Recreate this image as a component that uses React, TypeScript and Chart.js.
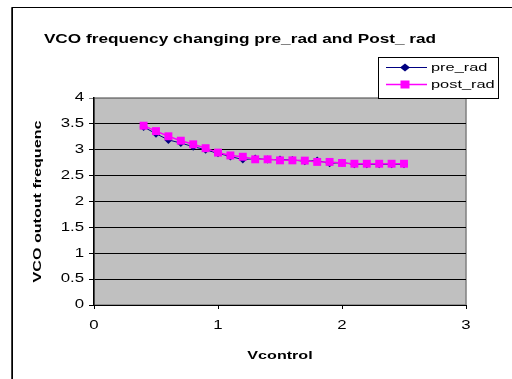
import React, { useEffect, useRef } from "react";
import { Chart, registerables } from "chart.js";

Chart.register(...registerables);

const TITLE = "VCO frequency changing pre_rad and Post_ rad";
const X_TITLE = "Vcontrol";
const Y_TITLE = "VCO outout frequenc";

const vcontrol = [0.4, 0.5, 0.6, 0.7, 0.8, 0.9, 1.0, 1.1, 1.2, 1.3, 1.4, 1.5, 1.6, 1.7, 1.8, 1.9, 2.0, 2.1, 2.2, 2.3, 2.4, 2.5];
const preRad = [3.44, 3.31, 3.19, 3.13, 3.06, 3.0, 2.93, 2.87, 2.81, 2.83, 2.81, 2.81, 2.8, 2.78, 2.79, 2.74, 2.75, 2.72, 2.72, 2.72, 2.72, 2.72];
const postRad = [3.465, 3.36, 3.26, 3.175, 3.105, 3.03, 2.945, 2.89, 2.865, 2.815, 2.815, 2.795, 2.795, 2.79, 2.765, 2.765, 2.745, 2.73, 2.73, 2.73, 2.73, 2.73];

const Y_TICK_LABELS = ["0", "0.5", "1", "1.5", "2", "2.5", "3", "3.5", "4"];
const X_TICK_LABELS = ["0", "1", "2", "3"];

const SERIES_NAMES = ["pre_rad", "post_rad"];

const FONT = "Arial, 'Liberation Sans', sans-serif";
const SX = 1.4; // horizontal text stretch seen in the reference

const frame = {
  id: "frame",
  afterInit(chart: any) {
    const ctx = chart.ctx;
    if (!ctx.__stretched) {
      const orig = ctx.fillText.bind(ctx);
      ctx.fillText = (t: string, x: number, y: number) => {
        ctx.save();
        ctx.translate(x, y);
        ctx.scale(SX, 1);
        orig(t, 0, 0);
        ctx.restore();
      };
      ctx.__stretched = true;
    }
  },
  beforeDraw(chart: any) {
    const { ctx, chartArea: a } = chart;
    ctx.save();
    ctx.fillStyle = "#ffffff";
    ctx.fillRect(0, 0, chart.width, chart.height);
    // outer chart frame
    ctx.strokeStyle = "#000";
    ctx.lineWidth = 1;
    ctx.beginPath();
    ctx.moveTo(12, chart.height + 5);
    ctx.lineTo(12, 7.5);
    ctx.lineTo(chart.width + 5, 7.5);
    ctx.stroke();
    ctx.fillStyle = "#000";
    ctx.fillRect(11.5, 7, 1.5, chart.height);
    // plot area
    ctx.fillStyle = "#c0c0c0";
    ctx.fillRect(a.left, a.top, a.right - a.left, a.bottom - a.top);
    ctx.strokeStyle = "#808080";
    ctx.lineWidth = 1.5;
    ctx.strokeRect(a.left, a.top, a.right - a.left, a.bottom - a.top);
    // title
    ctx.fillStyle = "#000";
    ctx.font = "bold 12.3px " + FONT;
    ctx.textAlign = "center";
    ctx.textBaseline = "alphabetic";
    ctx.fillText(TITLE, 240, 43);
    ctx.restore();
  },
  afterDraw(chart: any) {
    const { ctx } = chart;
    ctx.save();
    const bx = 378, by = 57, bw = 120, bh = 41;
    ctx.fillStyle = "#fff";
    ctx.fillRect(bx, by, bw, bh);
    ctx.strokeStyle = "#000";
    ctx.lineWidth = 1;
    ctx.strokeRect(bx + 0.5, by + 0.5, bw, bh);
    const ys = [67.5, 84.5];
    chart.data.datasets.forEach((ds: any, i: number) => {
      const y = ys[i];
      ctx.strokeStyle = ds.borderColor;
      ctx.lineWidth = ds.borderWidth;
      ctx.beginPath();
      ctx.moveTo(386, y);
      ctx.lineTo(427, y);
      ctx.stroke();
      ctx.fillStyle = ds.pointBackgroundColor;
      ctx.beginPath();
      if (ds.pointStyle === "rectRot") {
        const r = ds.pointRadius;
        ctx.moveTo(405, y - r);
        ctx.lineTo(405 + r + 1, y);
        ctx.lineTo(405, y + r);
        ctx.lineTo(405 - r - 1, y);
        ctx.closePath();
      } else {
        ctx.rect(400.5, y - 4, 9, 8);
      }
      ctx.fill();
      ctx.fillStyle = "#000";
      ctx.font = "11.7px " + FONT;
      ctx.textAlign = "left";
      ctx.textBaseline = "middle";
      ctx.fillText(ds.label, 431, y);
    });
    ctx.restore();
  },
};

export default function App() {
  const ref = useRef<HTMLCanvasElement | null>(null);
  useEffect(() => {
    if (!ref.current) return;
    const chart = new Chart(ref.current, {
      type: "line",
      data: {
        datasets: [
          {
            label: SERIES_NAMES[0],
            data: vcontrol.map((x, i) => ({ x, y: preRad[i] })),
            borderColor: "#000080",
            backgroundColor: "#000080",
            pointBackgroundColor: "#000080",
            pointBorderColor: "#000080",
            pointStyle: "rectRot",
            pointRadius: 4,
            pointBorderWidth: 0,
            borderWidth: 1,
            order: 1,
          },
          {
            label: SERIES_NAMES[1],
            data: vcontrol.map((x, i) => ({ x, y: postRad[i] })),
            borderColor: "#ff00ff",
            backgroundColor: "#ff00ff",
            pointBackgroundColor: "#ff00ff",
            pointBorderColor: "#ff00ff",
            pointStyle: "rect",
            pointRadius: 5.6,
            pointBorderWidth: 0,
            borderWidth: 1.5,
            order: 0,
          },
        ],
      } as any,
      options: {
        responsive: false,
        animation: false,
        devicePixelRatio: 1,
        layout: { padding: { left: 0, top: 98, right: 46, bottom: 0 } },
        plugins: {
          legend: { display: false },
          title: { display: false },
          tooltip: { enabled: false },
        },
        scales: {
          x: {
            type: "linear",
            min: 0,
            max: 3,
            afterFit(scale: any) {
              scale.height = 74;
            },
            ticks: {
              stepSize: 1,
              color: "#000",
              padding: 9,
              font: { family: FONT, size: 12 },
              callback: (v: any, i: number) => X_TICK_LABELS[i],
            },
            grid: { drawOnChartArea: false, drawTicks: true, tickLength: 4, color: "#000" },
            border: { display: true, color: "#000", width: 1 },
            title: {
              display: true,
              text: X_TITLE,
              color: "#000",
              font: { family: FONT, size: 11.5, weight: "bold" },
              padding: { top: 0, bottom: 16.6 },
            },
          },
          y: {
            type: "linear",
            min: 0,
            max: 4,
            afterFit(scale: any) {
              scale.width = 94;
            },
            ticks: {
              stepSize: 0.5,
              color: "#000",
              padding: 5,
              font: { family: FONT, size: 12 },
              callback: (v: any, i: number) => Y_TICK_LABELS[i],
            },
            grid: {
              drawTicks: true,
              tickLength: 5,
              color: (c: any) => (c.tick && c.tick.value === 4 ? "#808080" : "#000"),
              lineWidth: 1,
            },
            border: { display: true, color: "#000", width: 1.5 },
            title: {
              display: true,
              text: Y_TITLE,
              color: "#000",
              font: { family: FONT, size: 11.5, weight: "bold" },
              padding: { top: 30.6, bottom: 0 },
            },
          },
        },
      } as any,
      plugins: [frame],
    });
    return () => chart.destroy();
  }, []);
  return (
    <div style={{ position: "absolute", left: 0, top: 0, width: 512, height: 379 }}>
      <canvas ref={ref} width={512} height={379} style={{ width: 512, height: 379, display: "block" }} />
    </div>
  );
}
